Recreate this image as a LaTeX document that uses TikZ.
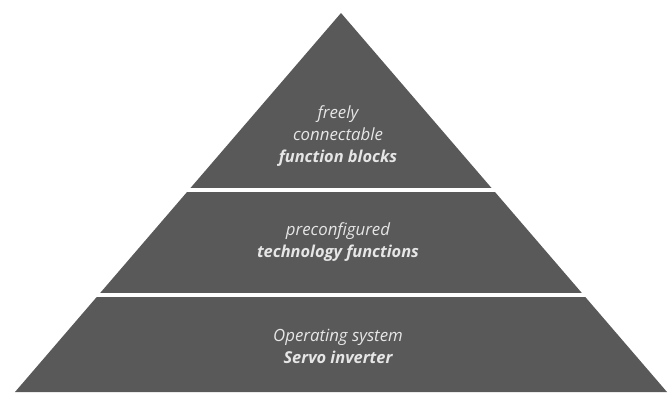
\documentclass[tikz,border=0pt]{standalone}
\usepackage{fontspec}
\setmainfont{Open Sans}
\begin{document}
\begin{tikzpicture}[x=1pt,y=-1pt,
  layer/.style={fill=pyrgray, draw=none},
  gap/.style={draw=white, line width=3.5pt},
  lbl/.style={text=txtgray, anchor=base, inner sep=0pt, font=\fontsize{16.8}{19}\selectfont\itshape},
  lblb/.style={lbl, font=\fontsize{16.4}{19}\selectfont\itshape\bfseries}]
\definecolor{pyrgray}{HTML}{595959}
\definecolor{txtgray}{HTML}{E6E6E6}
\useasboundingbox (0,0) rectangle (668,392);
\fill[white] (0,0) rectangle (668,392);
\coordinate (apex) at (341,13);
\coordinate (bl) at (15,392);
\coordinate (br) at (667,392);
\fill[layer] (apex) -- (br) -- (bl) -- cycle;
\coordinate (g1l) at (180,190);
\coordinate (g1r) at (500,190);
\coordinate (g2l) at (90,295);
\coordinate (g2r) at (592,295);
\draw[gap] (g1l) -- (g1r);
\draw[gap] (g2l) -- (g2r);
\node[lbl]  (t1) at (338,118) {freely};
\node[lbl]  (t2) at (338,140) {connectable};
\node[lblb] (t3) at (338,162) {function blocks};
\node[lbl]  (m1) at (338,235) {preconfigured};
\node[lblb] (m2) at (338,257) {technology functions};
\node[lbl]  (b1) at (338,341) {Operating system};
\node[lblb] (b2) at (338,363) {Servo inverter};
\end{tikzpicture}
\end{document}
